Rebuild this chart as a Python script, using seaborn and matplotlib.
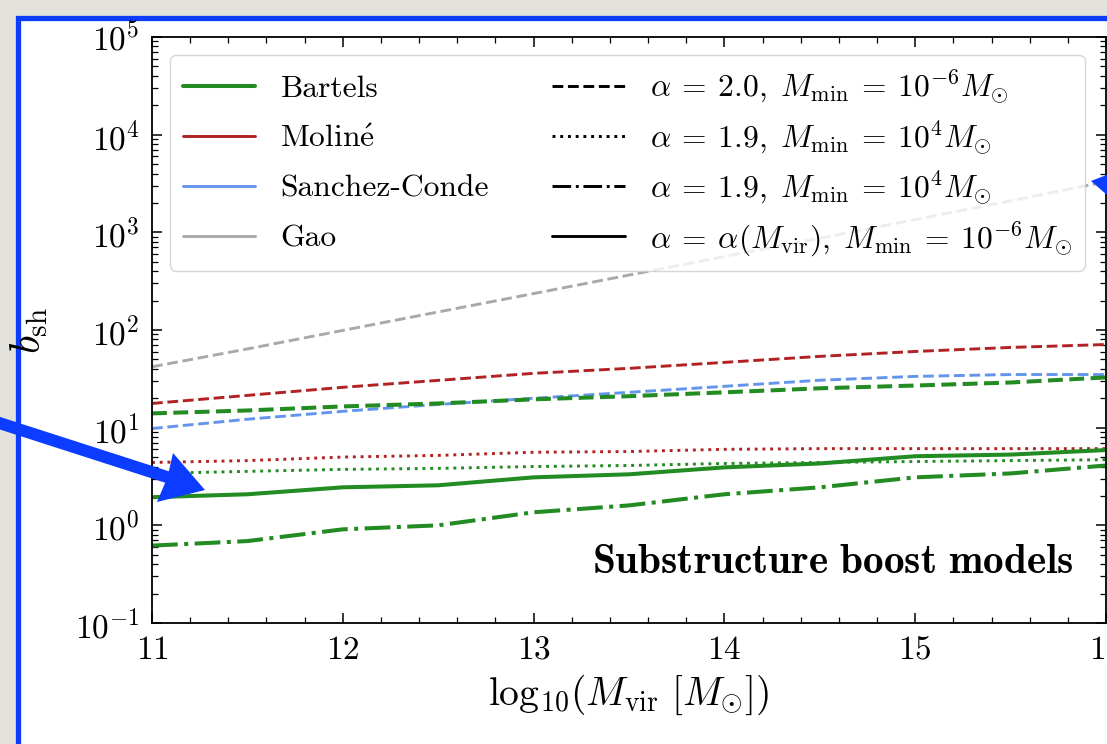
import numpy as np
import pandas as pd
import matplotlib
matplotlib.use("Agg")
import matplotlib.pyplot as plt
import matplotlib.ticker as mticker
from matplotlib.lines import Line2D
from matplotlib.patches import Rectangle, Polygon
import seaborn as sns

# ---------------- data ----------------
log_mvir = [11, 11.5, 12, 12.5, 13, 13.5, 14, 14.5, 15, 15.5, 16]

gao_dashed = [42, 64, 99, 153, 236, 365, 565, 870, 1350, 2100, 3300]
moline_dashed = [17.7, 21.4, 25.9, 30.5, 36, 40.5, 46.6, 53.7, 60.3, 66.3, 71]
sanchez_dashed = [9.8, 12.2, 14.7, 17.3, 20, 23, 26.5, 30.6, 33.5, 35, 35]
bartels_dashed = [14, 15, 16.5, 17.7, 19.5, 21, 23, 25.3, 27, 29, 32.7]
moline_dotted = [4.4, 4.6, 5.0, 5.2, 5.6, 5.7, 6.0, 6.1, 6.1, 6.1, 6.1]
bartels_dotted = [3.4, 3.57, 3.74, 3.83, 4.0, 4.1, 4.3, 4.4, 4.5, 4.6, 4.7]
bartels_solid = [1.94, 2.08, 2.45, 2.57, 3.1, 3.33, 3.92, 4.3, 5.1, 5.3, 5.9]
bartels_dashdot = [0.62, 0.69, 0.91, 1.0, 1.36, 1.6, 2.08, 2.45, 3.1, 3.4, 4.1]

model_names = ["Bartels", r"Molin$\acute{\mathrm{e}}$", "Sanchez-Conde", "Gao"]
variant_labels = [
    r"$\alpha\:=\:2.0,\;M_{\mathrm{min}}\:=\:10^{-6} M_{\odot}$",
    r"$\alpha\:=\:1.9,\;M_{\mathrm{min}}\:=\:10^{4} M_{\odot}$",
    r"$\alpha\:=\:1.9,\;M_{\mathrm{min}}\:=\:10^{4} M_{\odot}$",
    r"$\alpha\:=\:\alpha(M_{\mathrm{vir}}),\;M_{\mathrm{min}}\:=\:10^{-6} M_{\odot}$",
]
x_ticks = [11, 12, 13, 14, 15, 16]

# ---------------- style ----------------
sns.set_style("ticks")
plt.rcParams.update({
    "font.family": "cmr10",
    "mathtext.fontset": "cm",
    "axes.formatter.use_mathtext": True,
    "axes.unicode_minus": False,
    "text.color": "black",
    "axes.labelcolor": "black",
    "xtick.color": "black",
    "ytick.color": "black",
})

GREEN = "#228B22"
RED = "#B22222"
BLUE = "#6495ED"
GRAY = "#A9A9A9"
THIN = 2.1
THICK = 2.9

W, H = 1107, 744
fig = plt.figure(figsize=(W / 100, H / 100), dpi=100)
fig.patch.set_facecolor("#e3e2dd")

def fx(px):
    return px / W

def fy(py):
    return 1 - py / H

# slide frame (white panel with blue border)
frame = Rectangle((fx(17.5), fy(800)), fx(1300), fy(17.5) - fy(800),
                  transform=fig.transFigure, facecolor="white",
                  edgecolor="#0b3cff", linewidth=3.8, zorder=-1)
fig.add_artist(frame)

ax = fig.add_axes([fx(152), fy(623), fx(1106) - fx(152), fy(37) - fy(623)])
ax.set_facecolor("white")

df = pd.DataFrame({"x": log_mvir})

series = [
    (gao_dashed, GRAY, "--", THIN),
    (moline_dashed, RED, "--", THIN),
    (sanchez_dashed, BLUE, "--", THIN),
    (bartels_dashed, GREEN, "--", THICK),
    (moline_dotted, RED, ":", THIN),
    (bartels_dotted, GREEN, ":", THIN),
    (bartels_solid, GREEN, "-", THICK),
    (bartels_dashdot, GREEN, "-.", THICK),
]
for vals, col, ls, lw in series:
    d = df.assign(y=vals)
    sns.lineplot(data=d, x="x", y="y", ax=ax, color=col, linestyle=ls,
                 linewidth=lw, legend=False)

ax.set_yscale("log")
ax.set_xlim(11, 16)
ax.set_ylim(1e-1, 1e5)
ax.set_xticks(x_ticks)
ax.xaxis.set_minor_locator(mticker.MultipleLocator(0.2))
ax.yaxis.set_major_locator(mticker.LogLocator(base=10, numticks=20))
ax.yaxis.set_minor_locator(mticker.LogLocator(base=10, subs=np.arange(2, 10), numticks=20))
ax.yaxis.set_minor_formatter(mticker.NullFormatter())

ax.tick_params(which="both", direction="in", top=True, right=True,
               colors="black", labelsize=24, pad=9)
ax.tick_params(which="major", length=7, width=1.1)
ax.tick_params(which="minor", length=4, width=0.9)
for s in ax.spines.values():
    s.set_linewidth(1.3)
    s.set_color("black")

ax.set_xlabel(r"$\mathrm{log}_{10}(M_{\mathrm{vir}}\ [M_{\odot}])$", fontsize=28.5,
              labelpad=6, color="black")
ax.set_ylabel(r"$b_{\mathrm{sh}}$", fontsize=30, color="black")
ax.yaxis.set_label_coords(-0.107, 0.5)

ax.text(0.966, 0.085, r"$\mathbf{Substructure\ boost\ models}$",
        transform=ax.transAxes, ha="right", va="baseline", fontsize=29.7,
        color="black")

handles = [
    Line2D([], [], color=GREEN, lw=THICK),
    Line2D([], [], color=RED, lw=THIN),
    Line2D([], [], color=BLUE, lw=THIN),
    Line2D([], [], color=GRAY, lw=THIN),
    Line2D([], [], color="black", lw=THIN, ls="--"),
    Line2D([], [], color="black", lw=THIN, ls=":"),
    Line2D([], [], color="black", lw=THIN, ls="-."),
    Line2D([], [], color="black", lw=THIN, ls="-"),
]
labels = model_names + variant_labels
leg = ax.legend(handles, labels, ncol=2, loc="upper left",
                bbox_to_anchor=(0.019, 0.969), borderaxespad=0, fontsize=22.7,
                handlelength=2.3, handletextpad=0.8, columnspacing=2.0,
                labelspacing=0.45, borderpad=0.4, frameon=True, framealpha=0.8,
                edgecolor="0.8", fancybox=True)
for t in leg.get_texts():
    t.set_color("black")
# equalise the row pitch of both legend columns
cols = leg._legend_handle_box.get_children()
cols[0].sep = 15.8
cols[1].sep = 8.8

# slide annotation arrows
def pix_poly(pts, **kw):
    return Polygon([(fx(x), fy(y)) for x, y in pts], closed=True,
                   transform=fig.transFigure, **kw)

p0 = np.array([-10.0, 420.0])
p1 = np.array([167.0, 477.0])
u = (p1 - p0) / np.linalg.norm(p1 - p0)
n = np.array([-u[1], u[0]]) * 6.0
arrow_pts = [tuple(p0 - n), tuple(p1 - n), (173, 453), (205, 490), (157, 502),
             tuple(p1 + n), tuple(p0 + n)]
fig.add_artist(pix_poly(arrow_pts, facecolor="#0b3cff", edgecolor="none", zorder=5))
fig.add_artist(pix_poly([(1091, 181), (1130, 166), (1130, 215)],
                        facecolor="#0b3cff", edgecolor="none", zorder=5))

fig.savefig("out.png", dpi=100, facecolor=fig.get_facecolor())
